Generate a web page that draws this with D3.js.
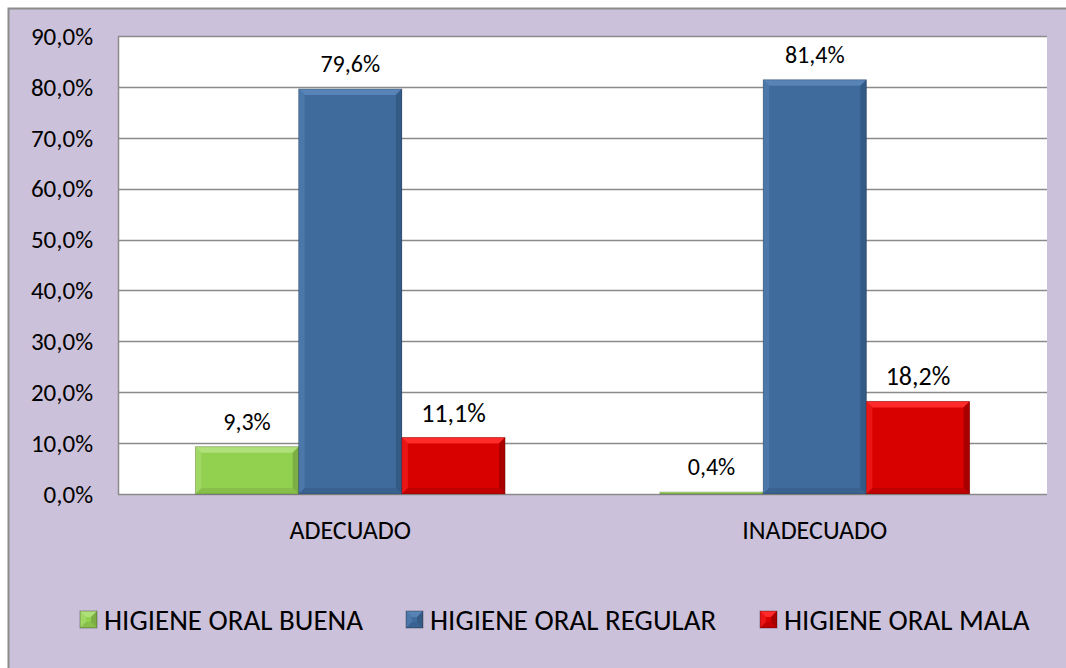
<!DOCTYPE html>
<html>
<head>
<meta charset="utf-8">
<script src="https://cdn.jsdelivr.net/npm/d3@7"></script>
<style>
  body { margin: 0; background: #fff; }
  text { font-family: Carlito, Lato, "Open Sans", sans-serif; fill: #000; }
</style>
</head>
<body>
<div id="chart"></div>
<script>
(function() {
  var W = 1066, H = 668;
  var margin = { top: 36, left: 118, right: 19, bottom: 174 },
      height = H - margin.top - margin.bottom,
      width = W - margin.left - margin.right;

  // data
  var categories = ["ADECUADO", "INADECUADO"];
  var seriesNames = ["HIGIENE ORAL BUENA", "HIGIENE ORAL REGULAR", "HIGIENE ORAL MALA"];
  var buena = [9.3, 0.4];
  var regular = [79.6, 81.4];
  var mala = [11.1, 18.2];
  var yTicks = [0, 10, 20, 30, 40, 50, 60, 70, 80, 90];

  var series = [
    { name: seriesNames[0], values: buena, main: "#92d050", light: "#b0e07a", dark: "#7cae44", bold: false },
    { name: seriesNames[1], values: regular, main: "#3f6a9c", light: "#5883b6", dark: "#345a86", bold: false },
    { name: seriesNames[2], values: mala, main: "#d90000", light: "#ff2a2a", dark: "#a80000", bold: true }
  ];

  var svg = d3.select("#chart").append("svg")
      .attr("width", W).attr("height", H);

  // chart area background
  svg.append("rect")
    .attr("x", 8.5).attr("y", 8.5)
    .attr("width", W).attr("height", H)
    .attr("fill", "#ccc1da")
    .attr("stroke", "#8c8c8c").attr("stroke-width", 2);

  var g = svg.append("g")
    .attr("transform", "translate(" + margin.left + "," + margin.top + ")");

  g.append("rect")
    .attr("width", width).attr("height", height)
    .attr("fill", "#fff");

  var x0 = d3.scaleBand().domain(categories).range([0, width]);
  var x1 = d3.scaleBand().domain(d3.range(3)).range([0, x0.bandwidth()])
      .paddingInner(0).paddingOuter(0.75);
  var y = d3.scaleLinear().domain([0, 90]).range([height, 0]);

  // gridlines
  g.append("g").selectAll("line")
    .data(yTicks)
    .enter().append("line")
    .attr("x1", 0).attr("x2", width)
    .attr("y1", function(d) { return Math.round(y(d)) + 0.5; })
    .attr("y2", function(d) { return Math.round(y(d)) + 0.5; })
    .attr("stroke", "#8a8a8a").attr("stroke-width", 1.5);

  // left axis line
  g.append("line")
    .attr("x1", 0.5).attr("x2", 0.5).attr("y1", 0).attr("y2", height)
    .attr("stroke", "#8a8a8a").attr("stroke-width", 1.5);

  // y tick labels
  g.append("g").selectAll("text")
    .data(yTicks)
    .enter().append("text")
    .attr("x", -25)
    .attr("y", function(d) { return y(d); })
    .attr("dy", "0.35em")
    .attr("text-anchor", "end")
    .style("font-size", "25px")
    .text(function(d) { return d3.format(".1f")(d).replace(".", ",") + "%"; });

  // category labels
  g.append("g").selectAll("text")
    .data(categories)
    .enter().append("text")
    .attr("x", function(d) { return x0(d) + x0.bandwidth() / 2; })
    .attr("y", height + 36)
    .attr("dy", "0.35em")
    .attr("text-anchor", "middle")
    .style("font-size", "26px")
    .text(function(d) { return d; });

  // bars with bevel
  function bevel(sel, x, top, w, h, s) {
    var b = Math.min(6, h / 2);
    sel.append("rect").attr("x", x).attr("y", top).attr("width", w).attr("height", h)
      .attr("fill", s.main);
    // top bevel
    sel.append("path")
      .attr("d", "M" + x + "," + top + "H" + (x + w) + "L" + (x + w - b) + "," + (top + b) +
                 "H" + (x + b) + "Z")
      .attr("fill", s.light);
    // left bevel
    sel.append("path")
      .attr("d", "M" + x + "," + top + "L" + (x + b) + "," + (top + b) + "V" + (top + h - b) +
                 "L" + x + "," + (top + h) + "Z")
      .attr("fill", s.light).attr("opacity", 0.5);
    // right bevel
    sel.append("path")
      .attr("d", "M" + (x + w) + "," + top + "L" + (x + w - b) + "," + (top + b) + "V" + (top + h - b) +
                 "L" + (x + w) + "," + (top + h) + "Z")
      .attr("fill", s.dark);
    // bottom bevel
    sel.append("path")
      .attr("d", "M" + x + "," + (top + h) + "L" + (x + b) + "," + (top + h - b) + "H" + (x + w - b) +
                 "L" + (x + w) + "," + (top + h) + "Z")
      .attr("fill", s.dark).attr("opacity", 0.5);
  }

  series.forEach(function(s, i) {
    var sg = g.append("g").attr("class", "series");
    categories.forEach(function(c, j) {
      var v = s.values[j];
      var bx = x0(c) + x1(i);
      var top = y(v);
      var h = height - top;
      var bar = sg.append("g");
      bevel(bar, bx, top, x1.bandwidth(), Math.max(h, 1.5), s);
      bar.append("rect")
        .attr("x", bx).attr("y", top).attr("width", x1.bandwidth()).attr("height", Math.max(h, 1.5))
        .attr("fill", "none").attr("stroke", "rgba(0,0,0,0.2)").attr("stroke-width", 1);
      sg.append("text")
        .attr("x", bx + x1.bandwidth() / 2)
        .attr("y", top - 25)
        .attr("dy", "0.35em")
        .attr("text-anchor", "middle")
        .style("font-size", s.bold ? "26px" : "24px")
        .style("font-weight", s.bold ? "normal" : "300")
        .text(d3.format(".1f")(v).replace(".", ",") + "%");
    });
  });

  // legend
  var legendX = [80, 406, 760];
  var legend = svg.append("g");
  series.forEach(function(s, i) {
    var lg = legend.append("g").attr("transform", "translate(" + legendX[i] + ",611)");
    bevel(lg, 0, 0, 17, 17, s);
    lg.append("rect").attr("width", 17).attr("height", 17)
      .attr("fill", "none").attr("stroke", "rgba(0,0,0,0.3)");
    lg.append("text")
      .attr("x", 24).attr("y", 8.5).attr("dy", "0.36em")
      .style("font-size", "29px")
      .text(s.name);
  });
})();
</script>
</body>
</html>
